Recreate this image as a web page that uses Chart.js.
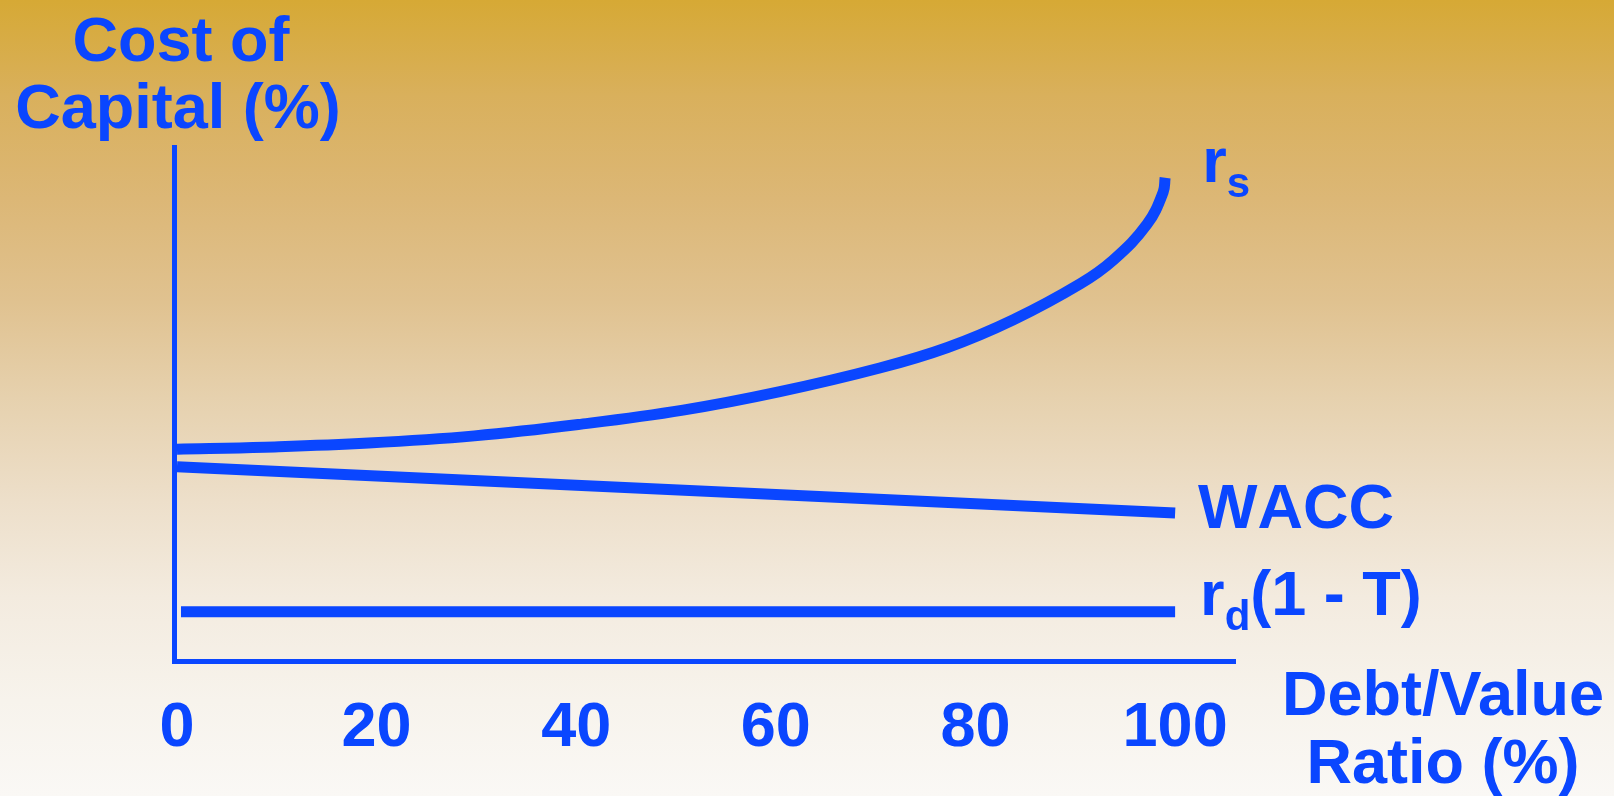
<!DOCTYPE html>
<html>
<head>
<meta charset="utf-8">
<title>Cost of Capital vs Debt/Value Ratio</title>
<script src="https://cdn.jsdelivr.net/npm/chart.js@4.4.0/dist/chart.umd.min.js"></script>
<style>
  html, body { margin: 0; padding: 0; }
  body {
    width: 1614px;
    height: 796px;
    overflow: hidden;
    background: linear-gradient(to bottom, #d6a935 0%, #d9b05c 12%, #dcb776 25%, #e0c290 38%, #e6d1ae 50%, #eddfca 63%, #f3ebdf 75%, #f7f3ec 88%, #faf8f5 100%);
  }
  #wrap { position: relative; width: 1614px; height: 796px; }
</style>
</head>
<body>
<div id="wrap"><canvas id="wacc"></canvas></div>
<script>
// Debt/Value ratio (%) and cost (%)
const rsDebt = [0, 8.8, 19.2, 29.8, 40.2, 50.7, 60.4, 70.4, 77.2, 83.8, 90.5, 93.8, 97.2, 98.8, 99.0];
const rsCost = [20.6, 20.8, 21.2, 21.9, 23.0, 24.4, 26.2, 28.5, 30.5, 33.2, 36.7, 39.0, 42.5, 45.6, 47.0];
const waccDebt = [0, 100];
const waccCost = [18.9, 14.4];
const rdDebt = [0.4, 100];
const rdCost = [4.8, 4.8];
const xTicks = [0, 20, 40, 60, 80, 100];

// "_" marks the next character as a subscript
const seriesNames = ['r_s', 'WACC', 'r_d(1 - T)'];
const yTitle = ['Cost of', 'Capital (%)'];
const xTitle = ['Debt/Value', 'Ratio (%)'];

const BLUE = '#0a46ff';
const FONT = "'Liberation Sans', Arial, sans-serif";

const zip = (xs, ys) => xs.map((x, i) => ({ x, y: ys[i] }));

function drawName(ctx, x, y, name) {
  let cx = x;
  for (let i = 0; i < name.length; i++) {
    let ch = name[i];
    let sub = false;
    if (ch === '_') { sub = true; ch = name[++i]; }
    ctx.font = sub ? `bold 42px ${FONT}` : `bold 63px ${FONT}`;
    ctx.fillText(ch, cx, sub ? y + 15 : y);
    cx += ctx.measureText(ch).width;
  }
}

const labelPlugin = {
  id: 'curveLabels',
  afterDatasetsDraw(chart, args, opts) {
    const { ctx, chartArea } = chart;
    ctx.save();
    ctx.fillStyle = BLUE;
    ctx.textBaseline = 'alphabetic';
    ctx.textAlign = 'left';
    chart.data.datasets.forEach((ds, i) => {
      const pts = chart.getDatasetMeta(i).data;
      const end = pts[pts.length - 1];
      const off = opts.offsets[i];
      drawName(ctx, end.x + off[0], end.y + off[1], seriesNames[i]);
    });

    ctx.textAlign = 'center';
    ctx.font = `bold 63px ${FONT}`;
    ctx.fillText(yTitle[0], chartArea.left + 7, chartArea.top - 86);
    ctx.fillText(yTitle[1], chartArea.left + 4, chartArea.top - 19);
    ctx.fillText(xTitle[0], chartArea.right + 208, chartArea.bottom + 54);
    ctx.fillText(xTitle[1], chartArea.right + 208, chartArea.bottom + 122);
    ctx.restore();
  }
};

const lineStyle = {
  borderColor: BLUE,
  borderWidth: 11,
  pointRadius: 0,
  pointHoverRadius: 0,
  borderCapStyle: 'butt',
  borderJoinStyle: 'round',
  fill: false
};

new Chart(document.getElementById('wacc'), {
  type: 'line',
  data: {
    datasets: [
      { label: 'rs', data: zip(rsDebt, rsCost), ...lineStyle, tension: 0.4 },
      { label: 'WACC', data: zip(waccDebt, waccCost), ...lineStyle },
      { label: 'rd(1 - T)', data: zip(rdDebt, rdCost), ...lineStyle }
    ]
  },
  options: {
    responsive: true,
    maintainAspectRatio: false,
    animation: false,
    events: [],
    layout: { padding: { top: 147, right: 379, left: 0, bottom: 0 } },
    plugins: {
      legend: { display: false },
      tooltip: { enabled: false },
      curveLabels: { offsets: [[37, 4], [23, 15], [25, 3]] }
    },
    scales: {
      x: {
        type: 'linear',
        min: -0.3,
        max: 106,
        afterBuildTicks: (scale) => { scale.ticks = xTicks.map(v => ({ value: v })); },
        afterFit: (scale) => { scale.height = 135; },
        grid: { display: false, drawTicks: false },
        border: { display: true, color: BLUE, width: 5 },
        ticks: {
          color: BLUE,
          padding: 30,
          maxRotation: 0,
          autoSkip: false,
          font: { family: FONT, size: 63, weight: 'bold' }
        }
      },
      y: {
        type: 'linear',
        min: 0,
        max: 50,
        afterFit: (scale) => { scale.width = 174; },
        grid: { display: false, drawTicks: false },
        border: { display: true, color: BLUE, width: 5 },
        ticks: { display: false }
      }
    }
  },
  plugins: [labelPlugin]
});
</script>
</body>
</html>
